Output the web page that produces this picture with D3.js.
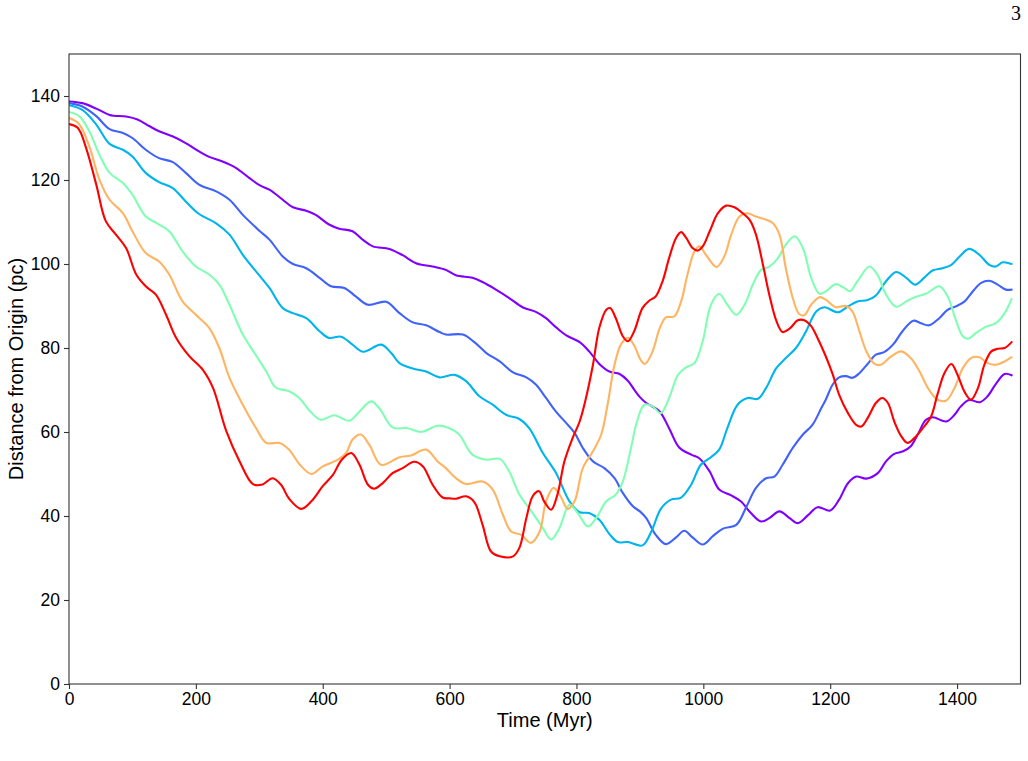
<!DOCTYPE html>
<html>
<head>
<meta charset="utf-8">
<script src="https://cdn.jsdelivr.net/npm/d3@7/dist/d3.min.js"></script>
<style>
  html, body { margin: 0; padding: 0; background: #fff; }
  svg { display: block; }
</style>
</head>
<body>
<svg id="chart" width="1028" height="761"></svg>
<script>
// ---------------- data (time in Myr, distance in pc) ----------------
const xTicks = [0, 200, 400, 600, 800, 1000, 1200, 1400];
const yTicks = [0, 20, 40, 60, 80, 100, 120, 140];
const seriesNames = ["s1", "s2", "s3", "s4", "s5", "s6"];
const seriesColors = ["#8000ff", "#4062fa", "#00b4ec", "#80ffb4", "#ffb462", "#ff0000"];

const tPurple = [0,21,43,64,90,108,127,142,163,184,205,221,242,263,284,301,316,337,353,374,389,410,426,447,463,479,505,526,547,573,594,610,636,652,673,694,715,736,752,768,784,805,820,836,852,868,881,891,900,910,931,946,962,981,994,1010,1025,1044,1059,1075,1091,1104,1120,1136,1149,1165,1180,1200,1214,1228,1241,1257,1275,1288,1301,1315,1327,1338,1351,1362,1383,1396,1406,1419,1436,1448,1461,1475,1486];
const vPurple = [138.7,138.3,137.0,135.5,135.1,134.4,132.8,131.6,130.4,128.8,126.8,125.5,124.4,122.9,120.5,118.7,117.7,115.3,113.5,112.7,111.7,109.4,108.4,107.8,105.8,104.2,103.6,102.1,100.2,99.4,98.6,97.3,96.7,95.7,93.9,91.9,89.7,88.6,87.1,84.9,83.0,81.4,79.2,76.2,74.4,73.8,72.2,70.1,68.3,66.9,64.9,60.9,56.3,54.6,53.7,50.6,46.3,44.9,43.5,40.7,38.7,39.5,41.1,39.5,38.3,40.2,42.1,41.3,43.9,47.8,49.4,48.9,50.2,53.0,54.8,55.4,56.6,59.4,62.9,63.5,62.5,64.1,66.1,67.6,67.1,68.5,71.4,73.8,73.5];

const tBlue = [0,21,43,64,85,100,121,142,163,184,205,232,253,274,301,316,337,353,374,395,413,434,452,471,500,521,542,563,584,594,621,639,658,679,700,721,736,752,768,784,797,810,826,844,860,873,889,900,910,925,941,957,970,983,999,1015,1031,1052,1067,1083,1099,1112,1125,1141,1157,1172,1186,1193,1204,1214,1225,1235,1246,1259,1272,1285,1299,1314,1331,1343,1356,1372,1385,1398,1412,1425,1438,1451,1464,1477,1486];
const vBlue = [138.3,137.5,135.2,132.1,131.2,130.0,127.2,125.2,124.3,121.7,118.9,117.3,115.3,111.7,107.8,105.8,101.8,100.0,99.0,96.7,94.7,94.3,92.3,90.3,91.0,88.3,86.1,85.4,83.8,83.2,83.2,81.4,78.8,76.8,74.2,73.0,71.3,68.1,64.8,62.1,59.8,56.2,53.0,51.4,49.0,45.5,42.3,41.1,39.5,35.5,33.3,34.9,36.5,34.9,33.2,35.2,37.0,37.9,41.9,46.7,49.0,49.4,52.2,56.2,59.4,61.7,65.7,67.7,71.3,73.0,73.3,72.9,74.0,76.2,78.4,79.0,80.8,84.0,86.5,85.9,85.4,87.1,89.1,89.9,91.1,93.5,95.5,96.0,95.1,93.9,93.9];

const tCyan = [0,21,43,64,85,100,121,142,163,184,205,232,253,274,301,316,337,353,374,395,410,429,447,464,492,508,521,542,563,584,608,626,647,668,689,710,726,747,768,789,805,820,836,852,865,881,904,918,933,949,965,981,996,1012,1025,1038,1054,1070,1086,1099,1115,1130,1146,1162,1178,1191,1212,1228,1243,1259,1272,1288,1304,1320,1334,1348,1362,1377,1391,1404,1419,1435,1451,1461,1472,1486];
const vCyan = [137.8,136.7,133.2,128.6,127.2,125.6,121.7,119.5,118.1,114.9,111.9,109.7,107.0,102.2,97.1,94.3,89.5,88.3,87.1,84.0,82.4,82.7,80.8,79.1,80.8,78.8,76.4,75.1,74.4,73.0,73.6,72.1,68.5,66.5,64.1,63.1,60.8,55.0,50.2,43.5,40.9,40.7,39.1,35.7,33.8,33.8,33.0,36.3,41.7,43.9,44.4,47.5,52.2,54.0,55.8,61.0,66.5,68.1,67.9,70.5,75.2,77.6,80.0,84.0,88.7,89.7,88.5,89.9,91.1,91.4,92.5,95.9,98.1,96.7,95.1,96.7,98.5,99.0,99.8,101.8,103.6,102.2,99.8,99.4,100.4,100.0];

const tGreen = [0,16,32,48,64,85,100,121,142,158,179,200,221,237,253,274,295,311,326,347,363,379,397,418,442,458,476,489,510,534,555,581,598,615,636,658,679,694,710,731,747,760,773,789,802,818,831,847,862,873,886,894,907,920,933,946,960,973,986,999,1012,1025,1038,1052,1065,1078,1091,1104,1117,1130,1144,1157,1170,1183,1193,1209,1222,1231,1243,1262,1275,1288,1304,1320,1335,1351,1372,1385,1398,1409,1417,1430,1446,1461,1475,1486];
const vGreen = [136.2,135.2,131.6,126.0,121.7,119.3,116.5,111.3,109.4,107.8,103.0,99.4,97.5,95.1,90.3,83.2,78.2,74.4,70.6,69.7,68.1,65.1,62.9,64.0,62.7,64.9,67.3,65.7,61.1,60.9,60.0,61.5,61.0,59.4,54.6,53.4,53.6,50.6,45.1,40.7,37.1,34.4,37.1,42.7,40.7,37.5,39.5,43.5,45.1,48.2,56.2,61.7,66.5,66.1,64.5,68.1,73.6,75.4,76.4,81.6,90.3,92.9,90.3,87.9,90.3,95.1,98.6,99.4,101.3,104.6,106.6,103.8,96.7,92.9,93.5,95.2,94.3,93.5,95.9,99.4,97.3,92.7,89.8,91.1,92.2,92.9,94.7,92.3,86.7,82.8,82.2,83.6,85.1,85.9,88.3,91.7];

const tOrange = [0,16,32,48,64,85,100,121,142,158,179,200,221,237,253,274,295,311,332,347,363,382,400,424,437,447,460,474,492,521,539,563,581,594,610,626,652,668,684,697,713,728,742,752,764,776,786,797,810,826,839,849,860,870,881,891,901,908,920,931,941,954,965,975,986,994,1004,1021,1033,1044,1057,1070,1083,1096,1109,1120,1130,1141,1151,1159,1170,1183,1193,1209,1225,1235,1246,1257,1270,1280,1296,1312,1327,1341,1354,1369,1383,1396,1409,1422,1435,1448,1461,1475,1486];
const vOrange = [134.8,133.3,128.0,120.1,115.3,112.1,107.8,102.6,100.6,97.5,91.1,87.9,84.8,80.0,72.9,66.5,60.9,57.4,57.4,55.8,52.4,50.0,51.8,53.4,55.0,58.2,59.4,56.8,52.2,54.0,54.4,55.8,53.0,51.4,49.0,47.6,48.2,46.3,40.3,36.3,35.5,33.6,36.3,43.5,46.7,44.4,41.7,43.5,51.4,55.4,59.4,66.5,76.0,80.8,82.4,80.6,77.2,76.2,79.2,84.6,87.3,87.5,91.1,97.5,103.0,104.2,102.2,99.3,101.8,107.0,111.3,112.1,111.3,110.7,109.8,107.0,99.0,91.9,88.1,87.8,90.3,92.1,91.5,89.7,90.0,88.7,84.0,79.2,76.2,76.0,78.0,79.2,77.6,74.4,70.5,67.7,67.5,70.5,75.2,77.6,77.8,76.4,76.0,76.8,77.8];

const tRed = [0,14,27,43,58,74,90,106,121,137,153,169,190,211,227,248,269,290,305,321,334,347,366,382,400,416,430,445,458,471,481,495,510,526,544,558,573,589,600,610,626,639,652,665,679,700,710,721,731,741,749,760,770,781,794,805,815,826,836,847,853,862,873,881,891,904,915,925,936,946,957,965,973,983,991,999,1010,1023,1036,1049,1062,1073,1083,1094,1104,1115,1125,1136,1149,1159,1170,1180,1192,1204,1214,1228,1241,1249,1259,1272,1282,1291,1301,1312,1322,1333,1346,1359,1369,1380,1391,1401,1412,1422,1433,1443,1454,1464,1475,1486];
const vRed = [133.3,132.4,127.6,118.9,110.2,107.0,103.8,97.5,94.7,92.7,87.9,82.4,78.0,74.8,70.5,60.2,53.0,47.6,47.5,49.0,47.5,44.1,41.7,43.5,47.1,49.8,53.4,55.0,52.2,47.5,46.5,47.9,50.2,51.4,52.9,51.8,47.5,44.4,44.2,44.1,44.7,43.3,37.9,31.6,30.4,30.4,32.4,39.5,44.7,45.9,43.5,41.5,45.1,53.0,58.6,62.5,68.1,76.0,84.8,89.1,89.5,87.1,82.8,81.6,84.0,89.5,91.3,92.3,96.0,101.4,106.2,107.6,106.2,103.8,103.2,104.2,107.8,112.1,113.9,113.5,112.1,110.5,107.0,99.8,92.7,86.5,83.8,84.6,86.6,86.6,85.2,82.4,78.4,73.7,68.9,64.5,61.7,61.3,63.3,66.9,68.1,66.9,62.5,59.0,57.4,58.6,60.9,63.7,68.9,74.0,76.2,73.5,69.5,67.7,70.5,76.0,79.2,79.8,80.0,81.4];

const seriesTimes = [tPurple, tBlue, tCyan, tGreen, tOrange, tRed];
const seriesValues = [vPurple, vBlue, vCyan, vGreen, vOrange, vRed];

const xLabel = "Time (Myr)";
const yLabel = "Distance from Origin (pc)";
const pageNumber = "3";

// ---------------- layout ----------------
const svg = d3.select("#chart");
const L = 69, R = 1020.5, T = 54, B = 684;

const x = d3.scaleLinear().domain([0, 1500]).range([L, R]);
const y = d3.scaleLinear().domain([0, 150]).range([B, T]);

const FONT = "'Liberation Sans', Arial, Helvetica, sans-serif";

// lines
const line = d3.line()
  .x(d => x(d[0]))
  .y(d => y(d[1]))
  .curve(d3.curveCatmullRom.alpha(0.5));

svg.append("clipPath").attr("id", "plotclip")
  .append("rect").attr("x", L).attr("y", T).attr("width", R - L).attr("height", B - T);

const gLines = svg.append("g").attr("clip-path", "url(#plotclip)");
seriesNames.forEach((name, i) => {
  const pts = seriesTimes[i].map((t, j) => [t, seriesValues[i][j]]);
  gLines.append("path")
    .datum(pts)
    .attr("fill", "none")
    .attr("stroke", seriesColors[i])
    .attr("stroke-width", 2.1)
    .attr("stroke-linejoin", "round")
    .attr("stroke-linecap", "round")
    .attr("d", line);
});

// axes
const xAxis = d3.axisBottom(x).tickValues(xTicks).tickSize(5).tickPadding(4).tickFormat(d3.format("d"));
const yAxis = d3.axisLeft(y).tickValues(yTicks).tickSize(5).tickPadding(4).tickFormat(d3.format("d"));

const gx = svg.append("g").attr("transform", `translate(0,${B})`).call(xAxis);
const gy = svg.append("g").attr("transform", `translate(${L},0)`).call(yAxis);
[gx, gy].forEach(g => {
  g.select(".domain").remove();
  g.selectAll(".tick line").attr("stroke", "#333").attr("stroke-width", 1.1);
  g.selectAll(".tick text").attr("fill", "#000").style("font-family", FONT).style("font-size", "17.5px");
});

// frame
svg.append("rect")
  .attr("x", L).attr("y", T).attr("width", R - L).attr("height", B - T)
  .attr("fill", "none").attr("stroke", "#333").attr("stroke-width", 1.1);

// axis labels
svg.append("text")
  .attr("x", (L + R) / 2).attr("y", 727)
  .attr("text-anchor", "middle")
  .style("font-family", FONT).style("font-size", "20px")
  .text(xLabel);

svg.append("text")
  .attr("transform", `translate(23,${(T + B) / 2}) rotate(-90)`)
  .attr("text-anchor", "middle")
  .style("font-family", FONT).style("font-size", "20px")
  .text(yLabel);

// page number
svg.append("text")
  .attr("x", 1021).attr("y", 20)
  .attr("text-anchor", "end")
  .style("font-family", "'Liberation Serif', 'DejaVu Serif', serif")
  .style("font-size", "20px")
  .text(pageNumber);
</script>
</body>
</html>
